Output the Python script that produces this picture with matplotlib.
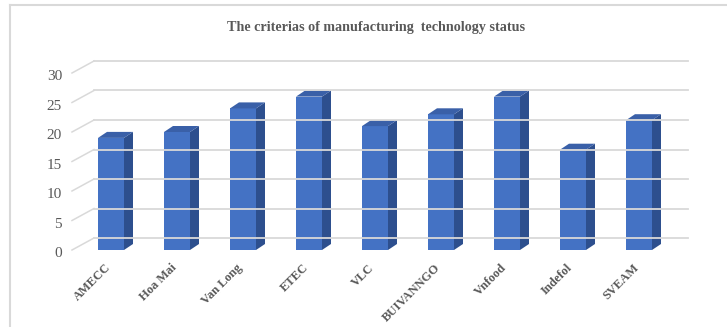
import numpy as np
import matplotlib.pyplot as plt
from matplotlib.patches import Polygon

# bar chart with a fake 3-D look (front face, side face, top face)
companies = ['AMECC', 'Hoa Mai', 'Van Long', 'ETEC', 'VLC',
             'BUIVANNGO', 'Vnfood', 'Indefol', 'SVEAM']
scores = [19, 20, 24, 26, 21, 23, 26, 17, 22]
yticks = [0, 5, 10, 15, 20, 25, 30]
title = 'The criterias of manufacturing  technology status'

front_col = '#4472C4'
side_col = '#2D4F8E'
top_col = '#3A60A8'
grid_col = '#D9D9D9'
text_col = '#595959'

W, H = 727, 327
px_cat = 66.0     # pixels per category
px_val = 5.9      # pixels per unit of value
x0_px = 111.0     # centre of first category
y0_px = 77.0      # front floor, from bottom

fig = plt.figure(figsize=(W / 100, H / 100), dpi=100)
ax = fig.add_axes([0, 0, 1, 1])
ax.set_xlim(-x0_px / px_cat, (W - x0_px) / px_cat)
ax.set_ylim(-y0_px / px_val, (H - y0_px) / px_val)
ax.axis('off')

# depth offsets in data units
back_dx = 22 / px_cat
back_dy = 12 / px_val
wall_x = -39 / px_cat      # front-left edge of the floor / wall
grid_end = (688 - x0_px) / px_cat

for v in yticks:
    ax.plot([wall_x, wall_x + back_dx], [v, v + back_dy], color=grid_col, lw=1.1)
    ax.plot([wall_x + back_dx, grid_end], [v + back_dy, v + back_dy],
            color=grid_col, lw=1.3)
    ax.text(-49 / px_cat, v - 0.6, str(v), ha='right', va='center',
            fontsize=11, color=text_col, family='Liberation Serif')

bw = 26 / px_cat
sd_x = 9 / px_cat
sd_y = 6 / px_val
for i, v in enumerate(scores):
    l = i - bw / 2
    r = i + bw / 2
    front = Polygon([(l, 0), (r, 0), (r, v), (l, v)], closed=True,
                    fc=front_col, ec='none')
    side = Polygon([(r, 0), (r + sd_x, sd_y), (r + sd_x, v + sd_y), (r, v)],
                   closed=True, fc=side_col, ec='none')
    top = Polygon([(l, v), (r, v), (r + sd_x, v + sd_y), (l + sd_x, v + sd_y)],
                  closed=True, fc=top_col, ec='none')
    for p in (front, side, top):
        ax.add_patch(p)
    ax.text(i - 0.1, -2.0, companies[i], rotation=45, rotation_mode='anchor',
            ha='right', va='top', fontsize=9, color=text_col,
            family='Liberation Serif', fontweight='bold')

ax.text((376 - x0_px) / px_cat, (H - 27 - y0_px) / px_val, title,
        ha='center', va='center', fontsize=10.2, fontweight='bold',
        color=text_col, family='Liberation Serif')

# chart frame (only the top and left edges show in the crop)
fig.add_artist(plt.Line2D([10 / W, 1], [1 - 5 / H, 1 - 5 / H],
                          transform=fig.transFigure, color=grid_col, lw=1.5))
fig.add_artist(plt.Line2D([10 / W, 10 / W], [0, 1 - 5 / H],
                          transform=fig.transFigure, color=grid_col, lw=1.5))

fig.savefig('out.png', dpi=100, facecolor='white')
